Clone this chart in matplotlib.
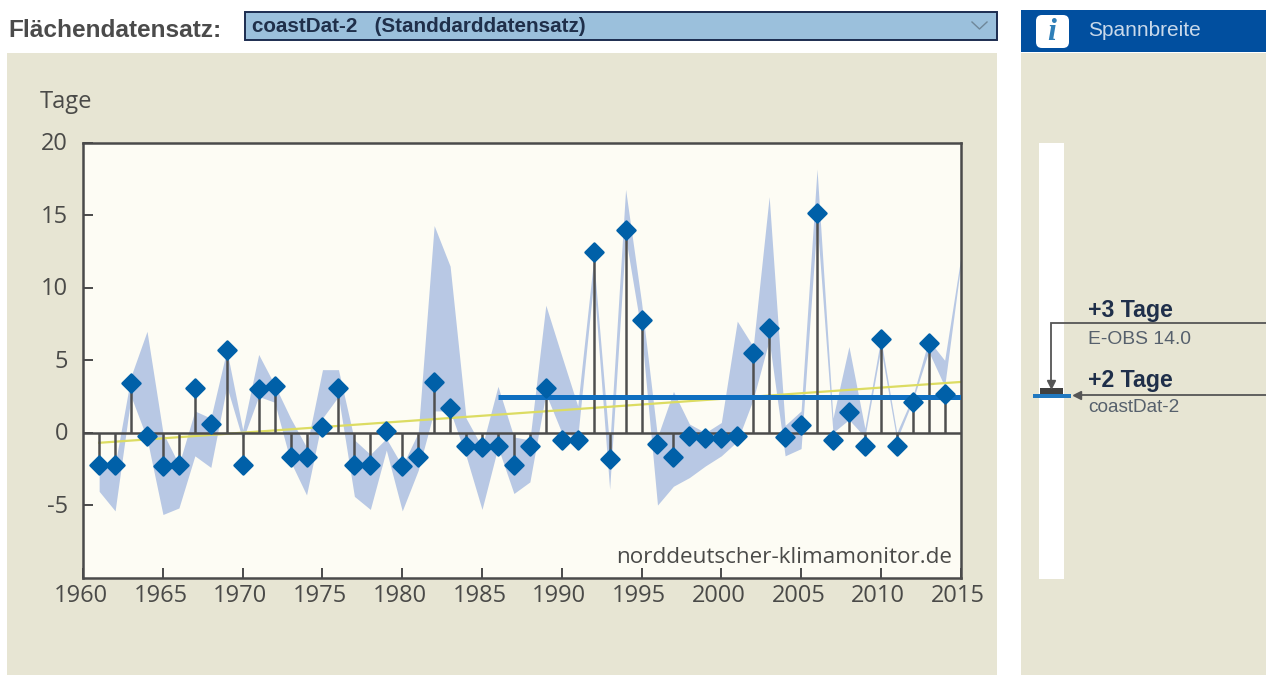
import matplotlib
matplotlib.use("Agg")
import matplotlib.pyplot as plt
from matplotlib.markers import MarkerStyle
from matplotlib.patches import Rectangle, FancyBboxPatch
from matplotlib.transforms import ScaledTranslation

plt.rcParams["axes.unicode_minus"] = False

years = list(range(1961, 2015))
values = [-2.2, -2.2, 3.4, -0.2, -2.3, -2.2, 3.1, 0.6, 5.7, -2.2,
          3.0, 3.2, -1.7, -1.7, 0.4, 3.1, -2.2, -2.2, 0.1, -2.3,
          -1.7, 3.5, 1.7, -0.9, -1.0, -0.9, -2.2, -0.9, 3.1, -0.5,
          -0.5, 12.5, -1.8, 14.0, 7.8, -0.8, -1.7, -0.2, -0.4, -0.4,
          -0.2, 5.5, 7.2, -0.3, 0.5, 15.2, -0.5, 1.4, -0.9, 6.5,
          -0.9, 2.1, 6.2, 2.7]
band_years = list(range(1961, 2016))
band_upper = [-2.2, -2.2, 3.9, 7.0, 0.0, -2.2, 1.5, 1.0, 5.7, 0.2,
              5.4, 3.3, 1.0, -1.0, 4.35, 4.35, -0.5, -1.5, -0.4, -2.3,
              0.0, 14.3, 11.5, 1.0, -1.0, 3.2, -0.3, -0.5, 8.8, 5.3,
              1.85, 12.0, -1.0, 16.8, 9.0, -0.3, 2.85, 0.6, 0.0, 0.7,
              7.7, 5.95, 16.3, 0.5, 1.5, 18.2, 1.0, 5.95, 0.3, 6.5,
              0.0, 2.5, 6.4, 5.0, 12.0]
band_lower = [-4.05, -5.4, 2.5, -0.4, -5.65, -5.2, -1.6, -2.4, 3.2, -0.5,
              2.5, 2.1, -2.0, -4.3, 1.0, 2.5, -4.4, -5.3, -1.2, -5.4,
              -2.6, 1.5, 1.5, -1.6, -5.3, -1.0, -4.2, -3.4, 2.7, 0.0,
              -0.3, 10.5, -3.9, 13.5, 6.9, -5.0, -3.7, -3.1, -2.3, -1.6,
              -0.6, 2.3, 6.4, -1.6, -1.1, 14.6, 0.0, 0.9, -0.3, 5.8,
              -0.5, 2.2, 5.6, 3.2, 11.5]
trend_years = [1961, 2015]
trend_values = [-0.7, 3.5]
mean_years = [1986, 2015]
mean_values = [2.45, 2.45]
xticks = list(range(1960, 2016, 5))
yticks = [-5, 0, 5, 10, 15, 20]

W, H = 1266, 675
BEIGE = "#e7e5d3"
INK = "#4a4a48"
fig = plt.figure(figsize=(W / 100, H / 100), dpi=100, facecolor="white")

# page furniture in pixel coordinates
bg = fig.add_axes([0, 0, 1, 1], zorder=0)
bg.set_xlim(0, W)
bg.set_ylim(H, 0)
bg.axis("off")
bg.add_patch(Rectangle((7, 53), 990, 622, fc=BEIGE, ec="none"))
bg.add_patch(Rectangle((1021, 53), 245, 622, fc=BEIGE, ec="none"))
bg.add_patch(Rectangle((1021, 10), 245, 42, fc="#014f9f", ec="none"))
bg.add_patch(Rectangle((245, 12), 752, 28, fc="#9bc0dc", ec="#1c2c50", lw=1.4))
bg.add_patch(FancyBboxPatch((1039, 18), 27, 27, boxstyle="round,pad=3,rounding_size=6",
                            fc="white", ec="none"))
bg.plot([972, 979.5, 987], [22, 29, 22], color="#6f8799", lw=1.0)
sans = "Liberation Sans"
bg.text(8, 30.5, "Flächendatensatz:", family=sans, weight="bold", fontsize=17.6,
        color="#4b4b4b", va="center", ha="left")
bg.text(252, 26, "coastDat-2   (Standdarddatensatz)", family=sans, weight="bold",
        fontsize=14.9, color="#1f2f4a", va="center", ha="left")
bg.text(1052, 32, "i", family="Liberation Serif", weight="bold", style="italic",
        fontsize=23, color="#2f7fb8", va="center", ha="center")
bg.text(1088.5, 30.5, "Spannbreite", family=sans, fontsize=15, color="#c9d9ea",
        va="center", ha="left")
bg.text(40, 102, "Tage", family="Open Sans", fontsize=17, color=INK, va="center", ha="left")

# range column on the right
bg.add_patch(Rectangle((1039, 143), 25, 436, fc="white", ec="none"))
bg.add_patch(Rectangle((1040, 388), 23, 6, fc="#404040", ec="none"))
bg.add_patch(Rectangle((1033, 394), 38, 4, fc="#2078c0", ec="none"))
bg.plot([1266, 1050.5, 1050.5], [323, 323, 380], color="#555555", lw=1.3, solid_joinstyle="miter")
bg.plot([1050.5], [384], marker="v", color="#555555", ms=6)
bg.plot([1266, 1076], [394.5, 394.5], color="#555555", lw=1.3)
bg.plot([1077], [394.5], marker="<", color="#555555", ms=6)
bg.text(1088, 311, "+3 Tage", family=sans, weight="bold", fontsize=16.7, color="#1f2f4a",
        va="center", ha="left")
bg.text(1088, 340, "E-OBS 14.0", family=sans, fontsize=13.9, color="#56606c", va="center", ha="left")
bg.text(1088, 381, "+2 Tage", family=sans, weight="bold", fontsize=16.7, color="#1f2f4a",
        va="center", ha="left")
bg.text(1088, 408, "coastDat-2", family=sans, fontsize=13.7, color="#56606c", va="center", ha="left")

# main chart
ax = fig.add_axes([83.2 / W, 1 - 577.5 / H, (960.6 - 83.2) / W, (577.5 - 143) / H], zorder=1)
ax.set_facecolor("#fdfcf4")
ax.set_xlim(1960, 2015)
ax.set_ylim(-10, 20)
ax.fill_between(band_years, band_lower, band_upper, color="#b8c8e4", lw=0, zorder=1)
ax.plot(trend_years, trend_values, color="#dcdc62", lw=1.6, zorder=2)
ax.axhline(0, color="#4a4a4a", lw=1.8, zorder=3)
ax.vlines(years, 0, values, color="#4f4f4f", lw=1.8, zorder=3)
ax.plot(mean_years, mean_values, color="#0f6fc0", lw=3.6, zorder=4, solid_capstyle="butt")
diamond = MarkerStyle("D", joinstyle="round")
ax.plot(years, values, ls="none", marker=diamond, ms=8.8, mew=1.8,
        mfc="#0060a8", mec="#0060a8", zorder=5)
ax.set_xticks(xticks)
ax.set_yticks(yticks)
ax.tick_params(axis="both", direction="in", length=7.5, width=1.4, color="#4a4a4a",
               labelcolor=INK, labelsize=17)
ax.tick_params(axis="x", pad=5)
ax.tick_params(axis="y", pad=11)
for lab in ax.get_xticklabels():
    lab.set_family("Open Sans")
    lab.set_transform(lab.get_transform() + ScaledTranslation(-2.5 / 100, 0, fig.dpi_scale_trans))
for lab in ax.get_yticklabels():
    lab.set_family("Open Sans")
    lab.set_transform(lab.get_transform() + ScaledTranslation(0, 1.5 / 100, fig.dpi_scale_trans))
for s in ax.spines.values():
    s.set_color("#4a4a4a")
    s.set_linewidth(1.8)
ax.text(0.9905, 0.046, "norddeutscher-klimamonitor.de", transform=ax.transAxes,
        family="Open Sans", fontsize=16.2, color=INK, ha="right", va="center", zorder=6)

fig.savefig("out.png", dpi=100)
